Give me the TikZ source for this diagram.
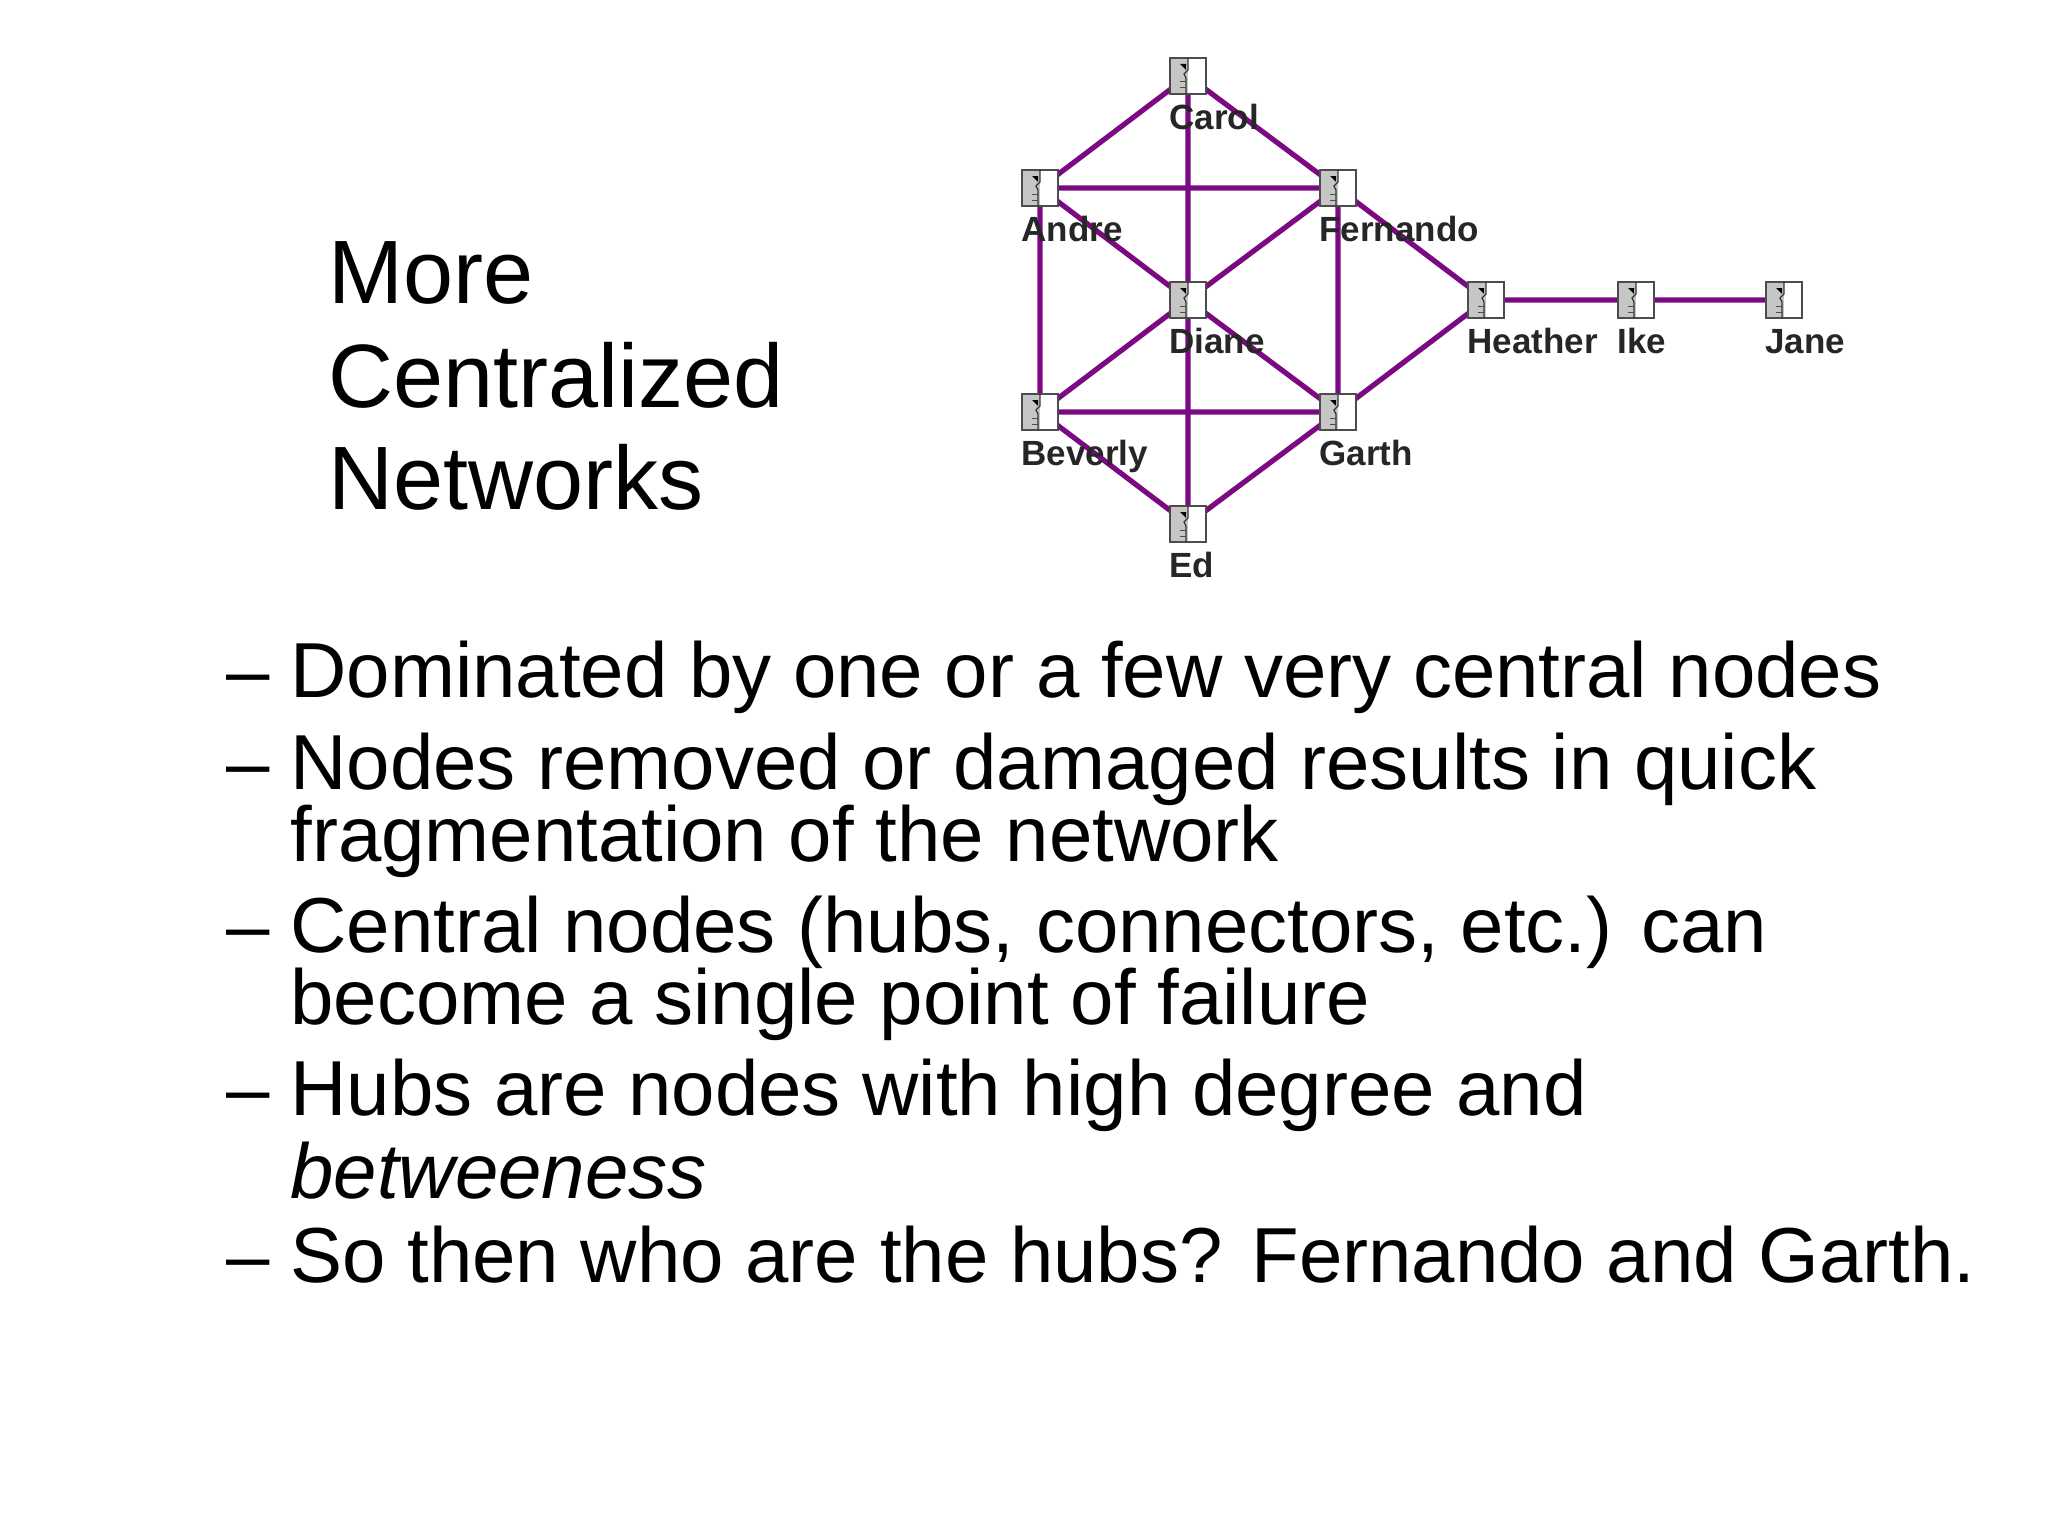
\documentclass[tikz,border=0pt]{standalone}
\usepackage{fontspec}
\setmainfont{Liberation Sans}
\usetikzlibrary{calc}
\begin{document}
\begin{tikzpicture}[x=1pt,y=1pt,
  edge/.style={draw=edgec,line width=2.6pt},
  lbl/.style={anchor=base west,font=\fontsize{17.5}{19}\selectfont\bfseries,inner sep=0pt,text=black!85},
  big/.style={anchor=base west,font=\fontsize{39}{42}\selectfont,inner sep=0pt},
  ttl/.style={anchor=base west,font=\fontsize{45}{48}\selectfont,inner sep=0pt},
  icon/.pic={
    \fill[gray!45] (-9,-9) rectangle (0,9);
    \fill[white] (0,-9) rectangle (9,9);
    \draw[line width=0.6pt,black!70] (-9,-9) rectangle (9,9);
    \draw[line width=0.6pt,black!80] (0,9) -- (0,3) -- (-2,1) -- (-1,-1) -- (-1,-9);
    \fill[black] (-4,6) -- (-1,6) -- (-1,3) -- cycle;
    \draw[line width=0.5pt,black!70] (-4,-3) -- (-1,-3) (-4,-6)--(-1,-6);
  }]
\definecolor{edgec}{HTML}{7B0A82}
\useasboundingbox (0,0) rectangle (1024,-768);
\coordinate (Carol) at (594,-38);
\coordinate (Andre) at (520,-94);
\coordinate (Fernando) at (669,-94);
\coordinate (Diane) at (594,-150);
\coordinate (Beverly) at (520,-206);
\coordinate (Garth) at (669,-206);
\coordinate (Ed) at (594,-262);
\coordinate (Heather) at (743,-150);
\coordinate (Ike) at (818,-150);
\coordinate (Jane) at (892,-150);
\draw[edge] (Carol)--(Andre) (Carol)--(Fernando) (Carol)--(Ed)
 (Andre)--(Fernando) (Andre)--(Diane) (Andre)--(Beverly)
 (Fernando)--(Diane) (Fernando)--(Garth) (Fernando)--(Heather)
 (Diane)--(Beverly) (Diane)--(Garth) (Beverly)--(Garth)
 (Beverly)--(Ed) (Garth)--(Ed) (Garth)--(Heather)
 (Heather)--(Ike) (Ike)--(Jane);
\foreach \n in {Carol,Andre,Fernando,Diane,Beverly,Garth,Ed,Heather,Ike,Jane}{
  \pic at (\n) {icon};
  \node[lbl] (l\n) at ($(\n)+(-9.5,-26.5)$) {\n};
}
\node[ttl] (t1) at (164,-151.5) {More};
\node[ttl] (t2) at (164,-203.5) {Centralized};
\node[ttl] (t3) at (164,-254.5) {Networks};
\foreach \y/\d/\t [count=\i] in {
 348.5/1/{Dominated by one or a few very central nodes},
 394.5/1/{Nodes removed or damaged results in quick},
 430.5/0/{fragmentation of the network},
 476/1/{Central nodes (hubs, connectors, etc.) can},
 512/0/{become a single point of failure},
 557.5/1/{Hubs are nodes with high degree and},
 599/0/{\itshape betweeness},
 641/1/{So then who are the hubs? Fernando and Garth.}}{
  \node[big] (b\i) at (145,-\y) {\t};
  \ifnum\d=1 \node[big] (d\i) at (113,-\y) {–};\fi
}
\end{tikzpicture}
\end{document}
